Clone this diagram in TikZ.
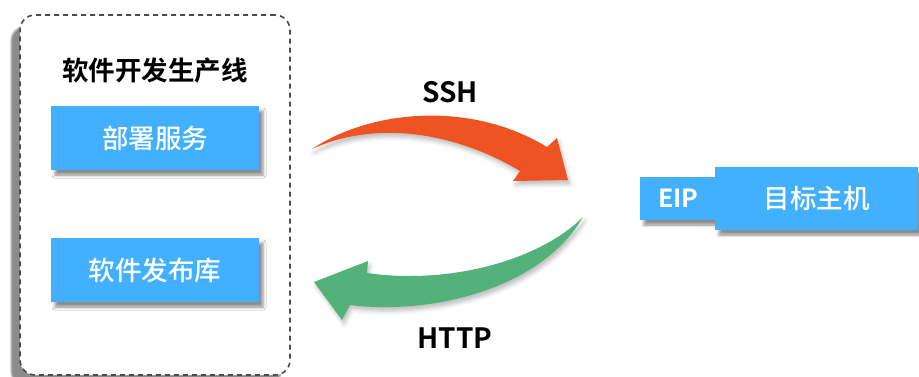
\documentclass[tikz,border=0pt]{standalone}
\usepackage{fontspec}
\setmainfont{Noto Sans CJK SC}[BoldFont={Noto Sans CJK SC Bold}]
\newfontfamily\mediumfont{Noto Sans CJK SC Medium}
\usetikzlibrary{shadows.blur}

\definecolor{boxblue}{HTML}{42B0FF}
\definecolor{sshred}{HTML}{F05323}
\definecolor{httpgreen}{HTML}{52B27A}

\tikzset{
  bluebox/.style={fill=boxblue, text=white, inner sep=0pt,
    font=\fontsize{26.5}{30}\mediumfont,
    blur shadow={shadow xshift=4pt, shadow yshift=-5pt, shadow blur radius=3pt, shadow opacity=45}},
  label/.style={font=\fontsize{28}{32}\selectfont\bfseries, inner sep=0pt},
  bigarrow/.style={blur shadow={shadow xshift=2pt, shadow yshift=-4pt, shadow blur radius=4pt, shadow opacity=25}}
}

\begin{document}
\begin{tikzpicture}[x=1pt, y=-1pt]
    \useasboundingbox (0,0) rectangle (919,376);
    % dashed pipeline frame
    \node[draw=black!70, dashed, dash pattern=on 5pt off 4pt, line width=1.6pt,
        fill=white, rounded corners=15pt, minimum width=270pt, minimum height=360pt,
        blur shadow={shadow xshift=-9pt, shadow yshift=-11pt, shadow blur radius=1.5pt, shadow opacity=45}]
        (pipeline) at (155,195) {};
    \node[label, font=\fontsize{26.5}{30}\selectfont\bfseries] (title) at (155,70) {软件开发生产线};
    \node[bluebox, minimum width=208pt, minimum height=64pt] (deploy) at (155,138) {部署服务};
    \node[bluebox, minimum width=208pt, minimum height=64pt] (repo) at (155,270) {软件发布库};

    \node[bluebox, minimum width=77pt, minimum height=43pt, font=\fontsize{25}{30}\selectfont\bfseries]
        (eip) at (678.5,198.5) {EIP};
    \node[bluebox, minimum width=203pt, minimum height=63pt] (host) at (816.5,198.5) {目标主机};

    % SSH arrow
    \fill[sshred, bigarrow] (312,149) .. controls (370,110) and (470,100) .. (547,147)
      -- (557,138) -- (568,180) -- (513,181) -- (520,171)
      .. controls (460,135) and (380,118) .. (312,149) -- cycle;
    \node[label] (ssh) at (450,92) {SSH};

    % HTTP arrow
    \fill[httpgreen, bigarrow] (583,217) .. controls (540,260) and (450,285) .. (367,273)
      -- (368,261) -- (314,282) -- (342,320) -- (350,305)
      .. controls (430,315) and (540,290) .. (583,217) -- cycle;
    \node[label] (http) at (455,338) {HTTP};
  \end{tikzpicture}
\end{document}
